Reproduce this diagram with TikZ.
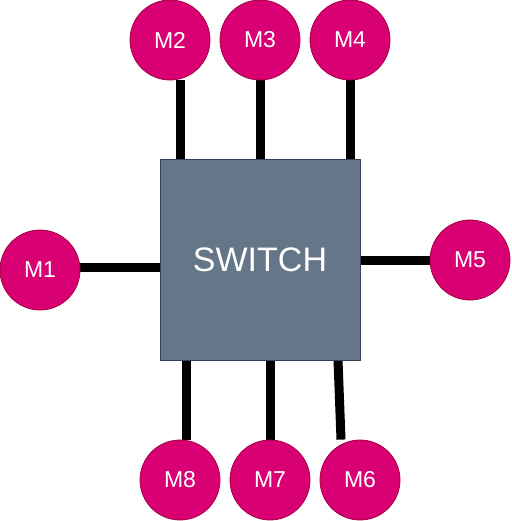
\documentclass[tikz,border=0pt]{standalone}
\usepackage{fontspec}
\setmainfont{Liberation Sans}
\usetikzlibrary{backgrounds}
\definecolor{mfill}{HTML}{D80073}
\definecolor{mdraw}{HTML}{A50040}
\definecolor{sfill}{HTML}{647687}
\definecolor{sdraw}{HTML}{314354}
\tikzset{
  mnode/.style={circle, fill=mfill, draw=mdraw, line width=0.8pt, minimum size=80pt, inner sep=0pt, text=white, font=\fontsize{23}{26}\selectfont},
  swnode/.style={rectangle, fill=sfill, draw=sdraw, line width=1pt, minimum width=200pt, minimum height=200pt, inner sep=0pt, text=white, font=\fontsize{34}{38}\selectfont},
  link/.style={line width=9pt, black}
}
\begin{document}
\begin{tikzpicture}[x=1pt,y=-1pt]
\useasboundingbox (0,0) rectangle (511,521);
\node[swnode] (sw) at (260,260) {SWITCH};
\node[mnode] (m1) at (40,270) {M1};
\node[mnode] (m2) at (170,40) {M2};
\node[mnode] (m3) at (260,40) {M3};
\node[mnode] (m4) at (350,40) {M4};
\node[mnode] (m5) at (470,260) {M5};
\node[mnode] (m6) at (360,480) {M6};
\node[mnode] (m7) at (270,480) {M7};
\node[mnode] (m8) at (180,480) {M8};
\coordinate (a2) at ([xshift=10pt]m2.south);
\coordinate (a8) at ([xshift=6pt]m8.north);
\coordinate (a6) at ([xshift=-19pt]m6.north);
\coordinate (b6) at (338,360);
\coordinate (a1) at ([yshift=3pt]m1.east);
\begin{scope}[on background layer]
\draw[link] (a2) -- (a2 |- sw.north);
\draw[link] (m3.south) -- (m3.south |- sw.north);
\draw[link] (m4.south) -- (m4.south |- sw.north);
\draw[link] (a1) -- (a1 -| sw.west);
\draw[link] (sw.east |- m5.west) -- (m5.west);
\draw[link] (a8 |- sw.south) -- (a8);
\draw[link] (m7.north |- sw.south) -- (m7.north);
\draw[link] (b6) -- (a6);
\end{scope}
\end{tikzpicture}
\end{document}
